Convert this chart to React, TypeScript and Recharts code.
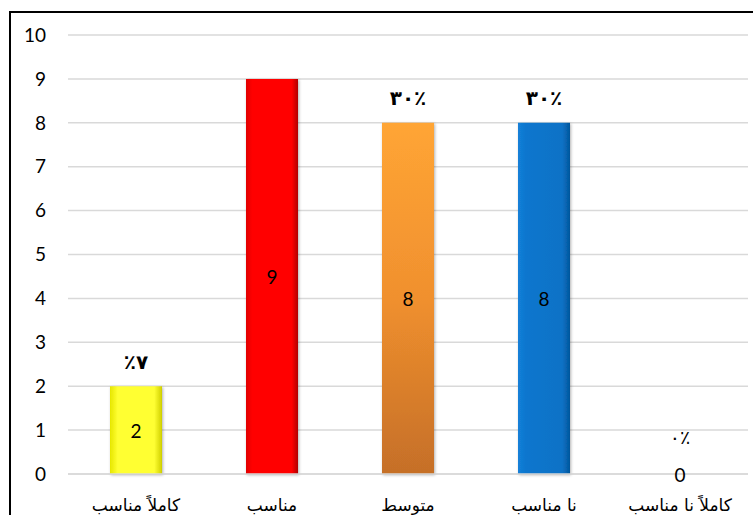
import { Bar, Cell, CartesianGrid, ComposedChart, LabelList, Line, XAxis, YAxis } from "recharts";

const categories = ["كاملاً مناسب", "مناسب", "متوسط", "نا مناسب", "كاملاً نا مناسب"];
const counts = [2, 9, 8, 8, 0];
const percentLabels = ["٪۷", "", "۳۰٪", "۳۰٪", "۰٪"];
const yTicks = [0, 1, 2, 3, 4, 5, 6, 7, 8, 9, 10];

const fills = ["url(#gYellow)", "url(#gRed)", "url(#gOrange)", "url(#gBlue)", "url(#gBlue)"];

const data = categories.map((name, i) => ({
  name,
  value: counts[i],
  half: counts[i] / 2,
  pct: percentLabels[i],
}));

const PctLabel = (props: any) => {
  const { x, y, value, index } = props;
  if (!value) return null;
  const isZero = counts[index] === 0;
  return (
    <text
      x={x}
      y={y - (isZero ? 36 : 23)}
      textAnchor="middle"
      dominantBaseline="middle"
      direction="ltr"
      fontFamily="DejaVu Sans"
      fontWeight={isZero ? 400 : 700}
      fontSize={isZero ? 19 : 20}
      fill="#000"
    >
      {value}
    </text>
  );
};

const CountLabel = (props: any) => {
  const { x, y, index } = props;
  return (
    <text
      x={x}
      y={y}
      textAnchor="middle"
      dominantBaseline="central"
      fontFamily="Lato"
      fontSize={19}
      fill="#000"
    >
      {counts[index]}
    </text>
  );
};

const CatTick = (props: any) => {
  const { x, y, payload } = props;
  return (
    <text
      x={x}
      y={y + 24}
      textAnchor="middle"
      dominantBaseline="middle"
      fontFamily="DejaVu Sans"
      fontSize={17}
      fill="#000"
    >
      {payload.value}
    </text>
  );
};

const App = () => {
  return (
    <div
      style={{
        position: "fixed",
        left: 0,
        top: 0,
        width: 753,
        height: 515,
        overflow: "hidden",
        background: "#fff",
      }}
    >
      <div
        style={{
          position: "absolute",
          left: 9,
          top: 11,
          width: 780,
          height: 540,
          border: "2px solid #000",
        }}
      />
      <div style={{ position: "absolute", left: 0, top: 0 }}>
        <ComposedChart
          width={753}
          height={515}
          data={data}
          margin={{ top: 35, right: 5, bottom: 11, left: 0 }}
          barSize={52}
        >
          <defs>
            <linearGradient id="gYellow" x1="0" y1="0" x2="1" y2="0">
              <stop offset="0%" stopColor="#E6E600" />
              <stop offset="15%" stopColor="#FFFF33" />
              <stop offset="85%" stopColor="#FFFF33" />
              <stop offset="100%" stopColor="#CFCF00" />
            </linearGradient>
            <linearGradient id="gRed" x1="0" y1="0" x2="1" y2="0">
              <stop offset="0%" stopColor="#E00000" />
              <stop offset="12%" stopColor="#FF0000" />
              <stop offset="88%" stopColor="#FF0000" />
              <stop offset="100%" stopColor="#B00000" />
            </linearGradient>
            <linearGradient id="gOrange" x1="0" y1="0" x2="0" y2="1">
              <stop offset="0%" stopColor="#FFA535" />
              <stop offset="50%" stopColor="#F0902E" />
              <stop offset="100%" stopColor="#C56F28" />
            </linearGradient>
            <linearGradient id="gBlue" x1="0" y1="0" x2="1" y2="0">
              <stop offset="0%" stopColor="#1580D8" />
              <stop offset="15%" stopColor="#0A76CE" />
              <stop offset="85%" stopColor="#0A72C6" />
              <stop offset="100%" stopColor="#04569C" />
            </linearGradient>
            <filter id="shadow" x="-20%" y="-5%" width="140%" height="110%">
              <feDropShadow dx="1" dy="1" stdDeviation="1.5" floodColor="#000" floodOpacity="0.3" />
            </filter>
          </defs>
          <CartesianGrid vertical={false} stroke="#D9D9D9" strokeWidth={1.5} />
          <XAxis
            dataKey="name"
            axisLine={{ stroke: "#D9D9D9", strokeWidth: 1.5 }}
            tickLine={false}
            height={30}
            interval={0}
            tick={<CatTick />}
          />
          <YAxis
            domain={[0, 10]}
            ticks={yTicks}
            axisLine={false}
            tickLine={false}
            width={68}
            tickMargin={16}
            tick={{ fill: "#000", fontSize: 19, fontFamily: "Lato" }}
          />
          <Bar dataKey="value" isAnimationActive={false} filter="url(#shadow)">
            {data.map((d, i) => (
              <Cell key={`cell-${i}`} fill={fills[i]} />
            ))}
          </Bar>
          <Line
            dataKey="half"
            stroke="none"
            dot={false}
            activeDot={false}
            isAnimationActive={false}
          >
            <LabelList dataKey="half" content={<CountLabel />} />
          </Line>
          <Line
            dataKey="value"
            stroke="none"
            dot={false}
            activeDot={false}
            isAnimationActive={false}
          >
            <LabelList dataKey="pct" content={<PctLabel />} />
          </Line>
        </ComposedChart>
      </div>
    </div>
  );
};

export default App;
